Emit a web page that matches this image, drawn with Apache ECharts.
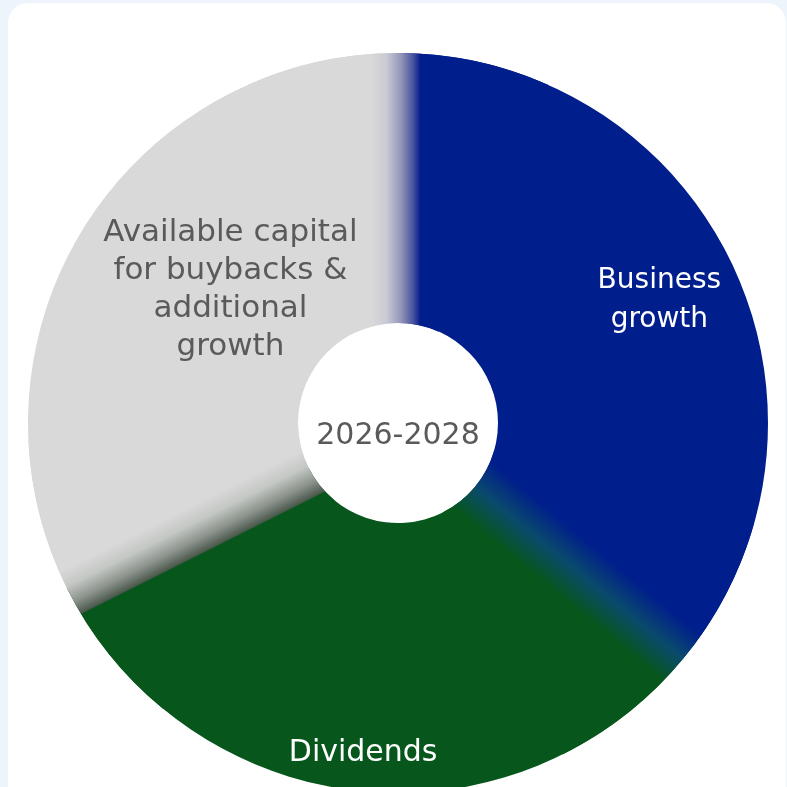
<!DOCTYPE html>
<html>
<head>
<meta charset="utf-8">
<script src="https://cdn.jsdelivr.net/npm/echarts@6/dist/echarts.min.js"></script>
<style>
  html, body { margin: 0; padding: 0; background: #eef4fc; }
  #chart { width: 787px; height: 787px; }
</style>
</head>
<body>
<div id="chart"></div>
<script>
// Capital allocation split, share of total (%)
const categories = ['Business growth', 'Dividends', 'Available capital for buybacks & additional growth'];
const sliceLabels = ['Business\ngrowth', 'Dividends', 'Available capital\nfor buybacks &\nadditional\ngrowth'];
const shares = [36, 31.6, 32.4];
const periodLabel = '2026-2028';

// Styling
const sliceColors = ['#001e8c', '#07561c', '#d9d9d9'];
const labelColors = ['#ffffff', '#ffffff', '#5a5a5a'];
const labelSizes = [28, 30, 31];
const labelLineHeights = [39, 40, 38];
const labelShift = [[46, -21], [-8, 94], [35, -8]];
const CX = 398, CY = 423, R_IN = 100, R_OUT = 370;
const FONT = '"DejaVu Sans", Lato, sans-serif';

// Soft transitions at each slice boundary (boundary i sits before slice i).
// from/to are offsets in px across the boundary, measured clockwise.
const edgeStyles = [
  { from: -26, to: 22, stops: [[0, '#d9d9d9'], [0.3, '#c9cad3'], [0.6, '#9497b9'], [0.85, '#4b55a0'], [0.97, '#1a2a8f'], [1, '#001e8c']] },
  { from: -30, to: 30, stops: [[0, '#001e8c'], [0.5, '#0a4a6c'], [1, '#07561c']] },
  { from: -29, to: 19, stops: [[0, '#07561c'], [0.02, '#4a584c'], [0.3, '#8a928b'], [0.65, '#c4c7c4'], [1, '#d9d9d9']] }
];
const BAND = 24; // half width of each transition wedge, degrees

const total = shares.reduce((a, b) => a + b, 0);
const bounds = [0];
let acc = 0;
for (let i = 0; i < shares.length - 1; i++) {
  acc += shares[i];
  bounds.push(acc / total * 360);
}

function edgeGradient(i) {
  const th = bounds[i] * Math.PI / 180;
  const tx = Math.cos(th), ty = Math.sin(th);
  const s = edgeStyles[i];
  return {
    type: 'linear',
    global: true,
    x: CX + s.from * tx, y: CY + s.from * ty,
    x2: CX + s.to * tx, y2: CY + s.to * ty,
    colorStops: s.stops.map(([offset, color]) => ({ offset, color }))
  };
}

const edgeData = [];
bounds.forEach((b, i) => {
  const next = i + 1 < bounds.length ? bounds[i + 1] : 360;
  edgeData.push({ value: 2 * BAND, itemStyle: { color: edgeGradient(i) } });
  edgeData.push({ value: next - b - 2 * BAND, itemStyle: { color: 'rgba(0,0,0,0)' } });
});

const common = {
  type: 'pie',
  center: [CX, CY],
  radius: [R_IN, R_OUT],
  clockwise: true,
  silent: true,
  animation: false,
  minAngle: 0,
  avoidLabelOverlap: false,
  labelLine: { show: false },
  emphasis: { disabled: true }
};

const chart = echarts.init(document.getElementById('chart'), null, { renderer: 'canvas' });
chart.setOption({
  backgroundColor: '#eef4fc',
  graphic: [
    {
      type: 'rect', z: 0,
      shape: { x: 8, y: 3, width: 778, height: 820, r: 20 },
      style: { fill: '#ffffff' }
    },
    {
      type: 'text', z: 10,
      x: CX, y: CY + 13,
      style: {
        text: periodLabel, fill: '#5a5a5a', font: '30px ' + FONT,
        align: 'center', verticalAlign: 'middle'
      }
    }
  ],
  series: [
    Object.assign({}, common, {
      name: 'Allocation',
      startAngle: 90,
      label: { show: false },
      itemStyle: { borderWidth: 0 },
      data: shares.map((v, i) => ({ name: categories[i], value: v, itemStyle: { color: sliceColors[i] } }))
    }),
    Object.assign({}, common, {
      name: 'edges',
      startAngle: 90 + BAND,
      label: { show: false },
      itemStyle: { borderWidth: 0 },
      data: edgeData
    }),
    Object.assign({}, common, {
      name: 'labels',
      startAngle: 90,
      itemStyle: { color: 'rgba(0,0,0,0)', borderWidth: 0 },
      label: {
        show: true, position: 'inside',
        fontFamily: FONT,
        align: 'center', verticalAlign: 'middle',
        formatter: p => sliceLabels[p.dataIndex]
      },
      labelLayout: p => ({ dx: labelShift[p.dataIndex][0], dy: labelShift[p.dataIndex][1] }),
      data: shares.map((v, i) => ({
        name: categories[i], value: v,
        label: { color: labelColors[i], fontSize: labelSizes[i], lineHeight: labelLineHeights[i] }
      }))
    })
  ]
});
</script>
</body>
</html>
